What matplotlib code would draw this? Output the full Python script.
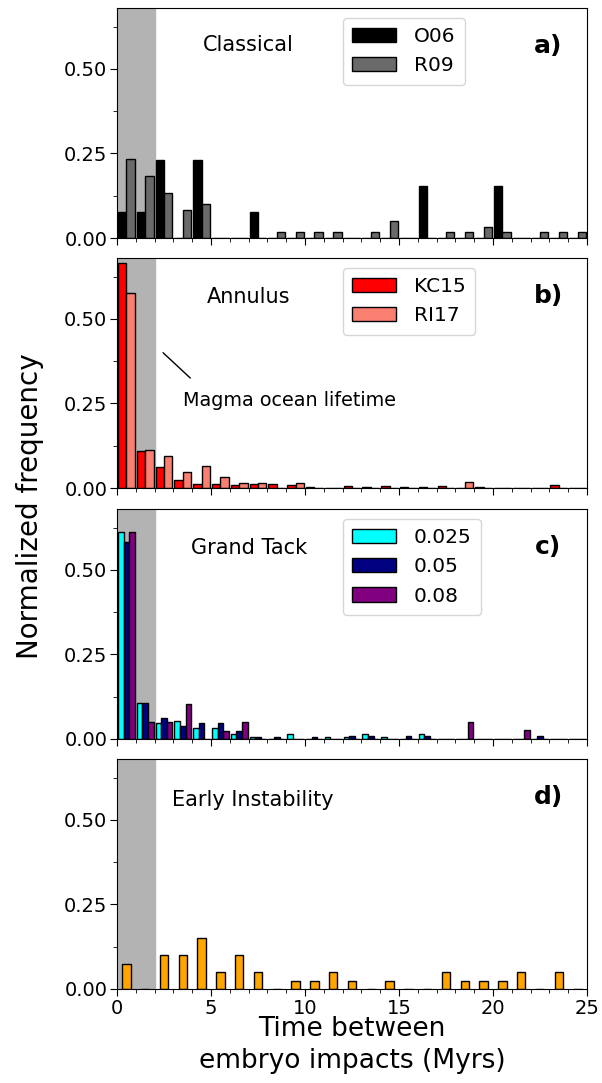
import numpy as np
import matplotlib
matplotlib.use("Agg")
import matplotlib.pyplot as plt
from matplotlib.ticker import MultipleLocator

# Bin left edges (Myr)
bins = np.arange(25)

# Panel a) Classical
o06 = [1/13, 1/13, 3/13, 0, 3/13, 0, 0, 1/13, 0, 0, 0, 0, 0, 0, 0, 0, 2/13, 0, 0, 0, 2/13, 0, 0, 0, 0]
r09 = [14/60, 11/60, 8/60, 5/60, 6/60, 0, 0, 0, 1/60, 1/60, 1/60, 1/60, 0, 1/60, 3/60, 0, 0, 1/60, 1/60, 2/60, 1/60, 0, 1/60, 1/60, 1/60]

# Panel b) Annulus
kc15 = [0.665, 0.108, 0.062, 0.025, 0.013, 0.011, 0.009, 0.011, 0.011, 0.010, 0.002, 0, 0.005, 0.002, 0.007, 0.003, 0.003, 0.005, 0, 0.003, 0, 0, 0, 0.010, 0]
ri17 = [0.578, 0.112, 0.096, 0.048, 0.064, 0.032, 0.016, 0.016, 0, 0.016, 0, 0, 0, 0, 0, 0, 0, 0, 0.018, 0, 0, 0, 0, 0, 0]

# Panel c) Grand Tack
gt025 = [0.612, 0.107, 0.046, 0.054, 0.033, 0.033, 0.014, 0.007, 0, 0.014, 0, 0.006, 0.006, 0.015, 0.007, 0, 0.015, 0, 0, 0, 0, 0, 0, 0, 0]
gt05 = [0.582, 0.107, 0.061, 0.038, 0.046, 0.046, 0.024, 0.007, 0.007, 0, 0.007, 0, 0.008, 0.008, 0, 0.008, 0.008, 0, 0, 0, 0, 0, 0.008, 0, 0]
gt08 = [0.613, 0.051, 0.051, 0.103, 0, 0.025, 0.051, 0, 0, 0, 0, 0, 0, 0, 0, 0, 0, 0, 0.051, 0, 0, 0.026, 0, 0, 0]

# Panel d) Early Instability
ei = [3/40, 0, 4/40, 4/40, 6/40, 2/40, 4/40, 2/40, 0, 1/40, 1/40, 2/40, 1/40, 0, 1/40, 0, 0, 2/40, 1/40, 1/40, 1/40, 2/40, 0, 2/40, 0]

fig = plt.figure(figsize=(6.02, 10.83), dpi=100)
W, H = 602, 1083
left, right = 117, 587
tops = [8, 258, 509, 759]
ph = 230

axes = []
for t in tops:
    ax = fig.add_axes([left / W, 1 - (t + ph) / H, (right - left) / W, ph / H])
    axes.append(ax)

FS_TICK = 14
FS_LEG = 14.5
FS_LAB = 15
FS_TAG = 18

def style(ax, last=False):
    ax.set_xlim(0, 25)
    ax.set_ylim(0, 0.68)
    ax.axvspan(0, 2, color='#b3b3b3', zorder=0)
    ax.xaxis.set_major_locator(MultipleLocator(5))
    ax.xaxis.set_minor_locator(MultipleLocator(1))
    ax.yaxis.set_major_locator(MultipleLocator(0.25))
    ax.yaxis.set_minor_locator(MultipleLocator(0.125))
    ax.set_yticks([0, 0.25, 0.5])
    ax.set_yticklabels(['0.00', '0.25', '0.50'])
    ax.tick_params(axis='both', which='major', labelsize=FS_TICK, length=5, pad=2)
    ax.tick_params(axis='both', which='minor', length=3)
    if not last:
        ax.tick_params(axis='x', labelbottom=False)

def multibar(ax, series, colors, labels):
    n = len(series)
    w = 0.9 / n
    for i, (s, c, lab) in enumerate(zip(series, colors, labels)):
        ax.bar(bins + 0.05 + i * w, s, width=w, align='edge', color=c,
               edgecolor='black', linewidth=1.0, label=lab, zorder=2)

def legend(ax):
    ax.legend(loc='upper left', bbox_to_anchor=(0.48, 0.955), borderaxespad=0,
              fontsize=FS_LEG, handlelength=2.2, handletextpad=0.9,
              borderpad=0.45, labelspacing=0.5)

ax = axes[0]
style(ax)
multibar(ax, [o06, r09], ['black', '#6a6a6a'], ['O06', 'R09'])
legend(ax)
ax.text(0.28, 0.84, 'Classical', transform=ax.transAxes, ha='center', va='center', fontsize=FS_LAB)
ax.text(0.918, 0.835, 'a)', transform=ax.transAxes, ha='center', va='center', fontsize=FS_TAG, fontweight='bold')

ax = axes[1]
style(ax)
multibar(ax, [kc15, ri17], ['#ff0000', '#fa8072'], ['KC15', 'RI17'])
legend(ax)
ax.text(0.28, 0.83, 'Annulus', transform=ax.transAxes, ha='center', va='center', fontsize=FS_LAB)
ax.text(0.918, 0.835, 'b)', transform=ax.transAxes, ha='center', va='center', fontsize=FS_TAG, fontweight='bold')
ax.annotate('', xy=(2.45, 0.40), xytext=(3.9, 0.325),
            arrowprops=dict(arrowstyle='-', color='black', lw=1.0, shrinkA=0, shrinkB=0))
ax.text(3.5, 0.259, 'Magma ocean lifetime', fontsize=13.8, ha='left', va='center')

ax = axes[2]
style(ax)
multibar(ax, [gt025, gt05, gt08], ['#00ffff', '#000080', '#800080'], ['0.025', '0.05', '0.08'])
legend(ax)
ax.text(0.28, 0.83, 'Grand Tack', transform=ax.transAxes, ha='center', va='center', fontsize=FS_LAB)
ax.text(0.918, 0.835, 'c)', transform=ax.transAxes, ha='center', va='center', fontsize=FS_TAG, fontweight='bold')

ax = axes[3]
style(ax, last=True)
ax.bar(bins + 0.5, ei, width=0.45, align='center', color='#ffa500',
       edgecolor='black', linewidth=1.0, zorder=2)
ax.text(0.29, 0.82, 'Early Instability', transform=ax.transAxes, ha='center', va='center', fontsize=FS_LAB)
ax.text(0.918, 0.835, 'd)', transform=ax.transAxes, ha='center', va='center', fontsize=FS_TAG, fontweight='bold')
ax.set_xlabel('Time between\nembryo impacts (Myrs)', fontsize=19, linespacing=1.3, labelpad=-1)

fig.text(0.05, 0.533, 'Normalized frequency', rotation=90, ha='center', va='center', fontsize=20)

fig.savefig('out.png', dpi=100)
